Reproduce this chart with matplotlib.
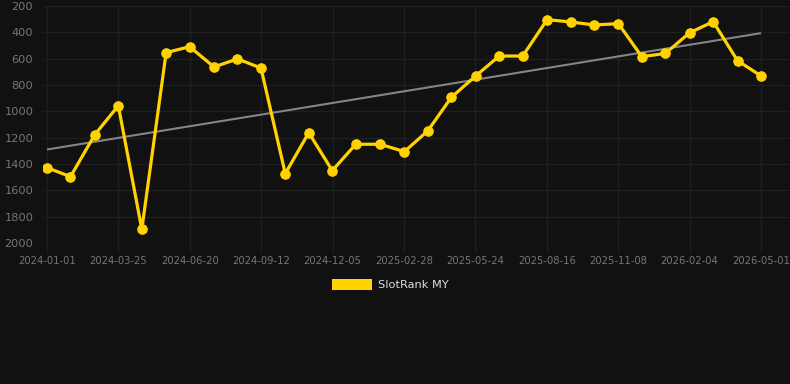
import matplotlib
matplotlib.use("Agg")
import matplotlib.pyplot as plt
import matplotlib.dates as mdates
import numpy as np
import datetime as dt

dates = ["2024-01-01", "2024-01-29", "2024-02-27", "2024-03-26", "2024-04-23",
         "2024-05-22", "2024-06-19", "2024-07-18", "2024-08-15", "2024-09-12",
         "2024-10-11", "2024-11-08", "2024-12-06", "2025-01-03", "2025-02-01",
         "2025-03-02", "2025-03-30", "2025-04-27", "2025-05-26", "2025-06-23",
         "2025-07-21", "2025-08-19", "2025-09-16", "2025-10-14", "2025-11-12",
         "2025-12-10", "2026-01-07", "2026-02-05", "2026-03-05", "2026-04-03",
         "2026-05-01"]
ranks = [1428, 1496, 1177, 957, 1896, 554, 509, 663, 602, 671,
         1473, 1162, 1450, 1250, 1250, 1306, 1147, 893, 731, 580,
         580, 304, 321, 344, 334, 585, 560, 403, 319, 615, 731]
tick_labels = ["2024-01-01", "2024-03-25", "2024-06-20", "2024-09-12", "2024-12-05",
               "2025-02-28", "2025-05-24", "2025-08-16", "2025-11-08", "2026-02-04",
               "2026-05-01"]
y_ticks = [200, 400, 600, 800, 1000, 1200, 1400, 1600, 1800, 2000]
series_name = "SlotRank MY"

bg = "#111111"
grid_c = "#1f1f1f"
gold = "#FFD200"

W, H = 790, 384
fig = plt.figure(figsize=(W / 100, H / 100), dpi=100, facecolor=bg)
ax = fig.add_axes([43 / W, 1 - 243 / H, (790 - 43) / W, (243 - 6) / H], facecolor=bg)

x = mdates.date2num([dt.datetime.strptime(d, "%Y-%m-%d") for d in dates])
y = np.array(ranks, dtype=float)

x0, x1 = x[0], x[-1]
span = x1 - x0
px = span / (761 - 47)
ax.set_xlim(x0 - 4 * px, x0 + (790 - 47) * px)
ax.set_ylim(2000, 200)

# trend line
k, b = np.polyfit(x - x0, y, 1)
ax.plot([x0, x1], [b, b + k * span], color="#858585", lw=1.5, zorder=2, solid_capstyle="butt")

ax.plot(x, y, color=gold, lw=2.3, marker="o", ms=6.8, mfc=gold, mec=gold, mew=0.8, zorder=3)

tick_pos = np.linspace(x0, x1, len(tick_labels))
ax.set_xticks(tick_pos)
ax.set_xticklabels(tick_labels)
ax.set_yticks(y_ticks)
ax.set_yticklabels([str(v) for v in y_ticks])

ax.grid(True, color=grid_c, lw=1)
ax.set_axisbelow(True)
for s in ax.spines.values():
    s.set_visible(False)
ax.tick_params(axis="x", colors=grid_c, length=7, width=1, labelcolor="#767676",
               labelsize=7.2, pad=2)
ax.tick_params(axis="y", length=0, labelcolor="#767676", labelsize=8.2, pad=7)

# legend
lx, ly = 332 / W, 1 - 290 / H
fig.patches.append(plt.Rectangle((lx, ly), 40 / W, 11 / H, transform=fig.transFigure,
                                 facecolor=gold, edgecolor="none"))
fig.text(378 / W, 1 - 285 / H, series_name, color="#dddddd", fontsize=8.2,
         va="center", ha="left")

fig.savefig("out.png", dpi=100, facecolor=bg)
